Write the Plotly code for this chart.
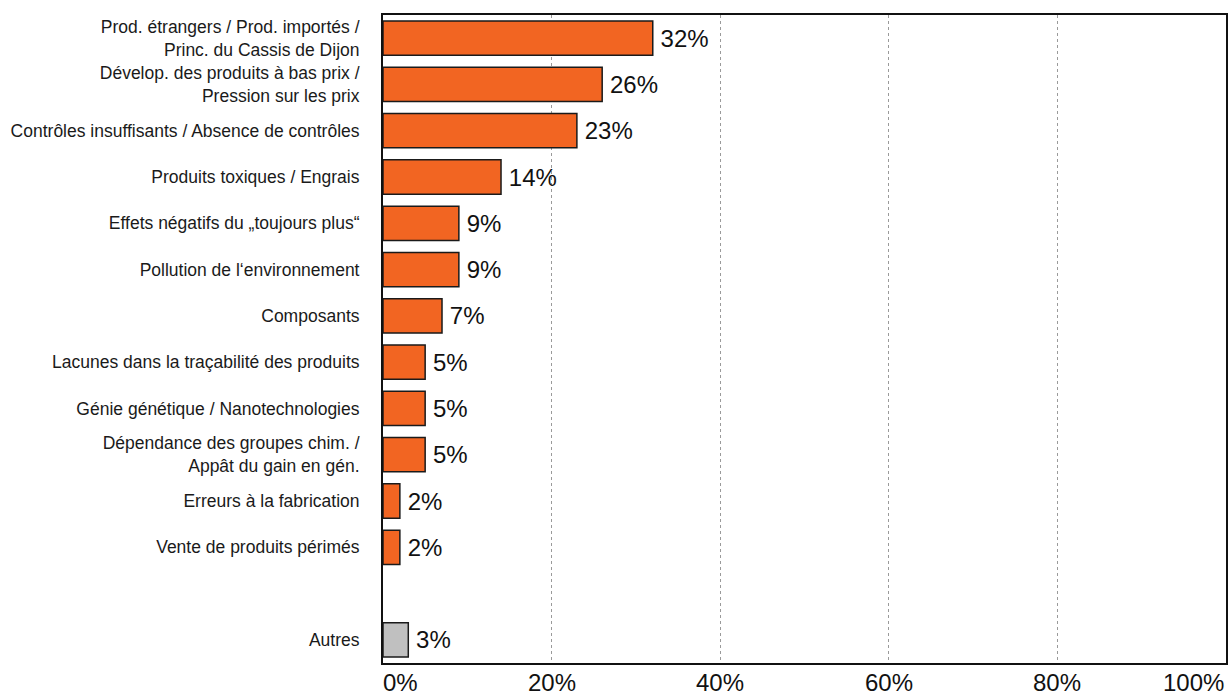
import plotly.graph_objects as go

# Survey answers, top to bottom; the blank entry leaves a gap before "Autres"
categories = [
    "Prod. étrangers / Prod. importés /<br>Princ. du Cassis de Dijon",
    "Dévelop. des produits à bas prix /<br>Pression sur les prix",
    "Contrôles insuffisants / Absence de contrôles",
    "Produits toxiques / Engrais",
    "Effets négatifs du „toujours plus“",
    "Pollution de l‘environnement",
    "Composants",
    "Lacunes dans la traçabilité des produits",
    "Génie génétique / Nanotechnologies",
    "Dépendance des groupes chim. /<br>Appât du gain en gén.",
    "Erreurs à la fabrication",
    "Vente de produits périmés",
    " ",
    "Autres",
]
values = [32, 26, 23, 14, 9, 9, 7, 5, 5, 5, 2, 2, None, 3]

tick_values = [0, 20, 40, 60, 80, 100]
tick_labels = ["0%", "20%", "40%", "60%", "80%", "100%"]

ORANGE = "#F26522"
GREY = "#C0C0C0"
FONT = "Liberation Sans, Arial, Helvetica, sans-serif"
colors = [GREY if c == "Autres" else ORANGE for c in categories]
# thin space keeps the value a few pixels clear of the bar end
texts = ["" if v is None else f"\u2009{v}%" for v in values]

fig = go.Figure()
fig.add_trace(go.Bar(
    x=values,
    y=categories,
    orientation="h",
    marker=dict(color=colors, line=dict(color="#1a1a1a", width=1.5)),
    width=0.74,
    text=texts,
    textposition="outside",
    constraintext="none",
    cliponaxis=False,
    textfont=dict(family=FONT, size=24, color="#111"),
    hoverinfo="skip",
))

# Percentage labels under the plot: first left-aligned, last right-aligned
for i, (tv, tl) in enumerate(zip(tick_values, tick_labels)):
    anchor = "left" if i == 0 else ("right" if i == len(tick_values) - 1 else "center")
    fig.add_annotation(
        x=tv, y=0, xref="x", yref="paper",
        yanchor="top", xanchor=anchor, yshift=-4,
        xshift=-2 if i == 0 else 0,
        text=tl, showarrow=False,
        font=dict(family=FONT, size=24, color="#111"),
    )

fig.update_layout(
    width=1230, height=700,
    margin=dict(l=383, r=2, t=15, b=37),
    paper_bgcolor="white",
    plot_bgcolor="white",
    showlegend=False,
    bargap=0.26,
    xaxis=dict(
        range=[0, 100],
        tickvals=tick_values,
        showticklabels=False,
        ticks="",
        showgrid=True,
        gridcolor="#9a9a9a",
        griddash="dot",
        gridwidth=1,
        zeroline=False,
        showline=True,
        linecolor="#111",
        linewidth=2,
        mirror=True,
        fixedrange=True,
    ),
    yaxis=dict(
        categoryorder="array",
        categoryarray=categories,
        autorange="reversed",
        ticks="",
        ticklabelstandoff=18,
        tickfont=dict(family=FONT, size=17.5, color="#1a1a1a"),
        showline=True,
        linecolor="#111",
        linewidth=2,
        mirror=True,
        showgrid=False,
        fixedrange=True,
    ),
)

fig.write_html("out.html")
